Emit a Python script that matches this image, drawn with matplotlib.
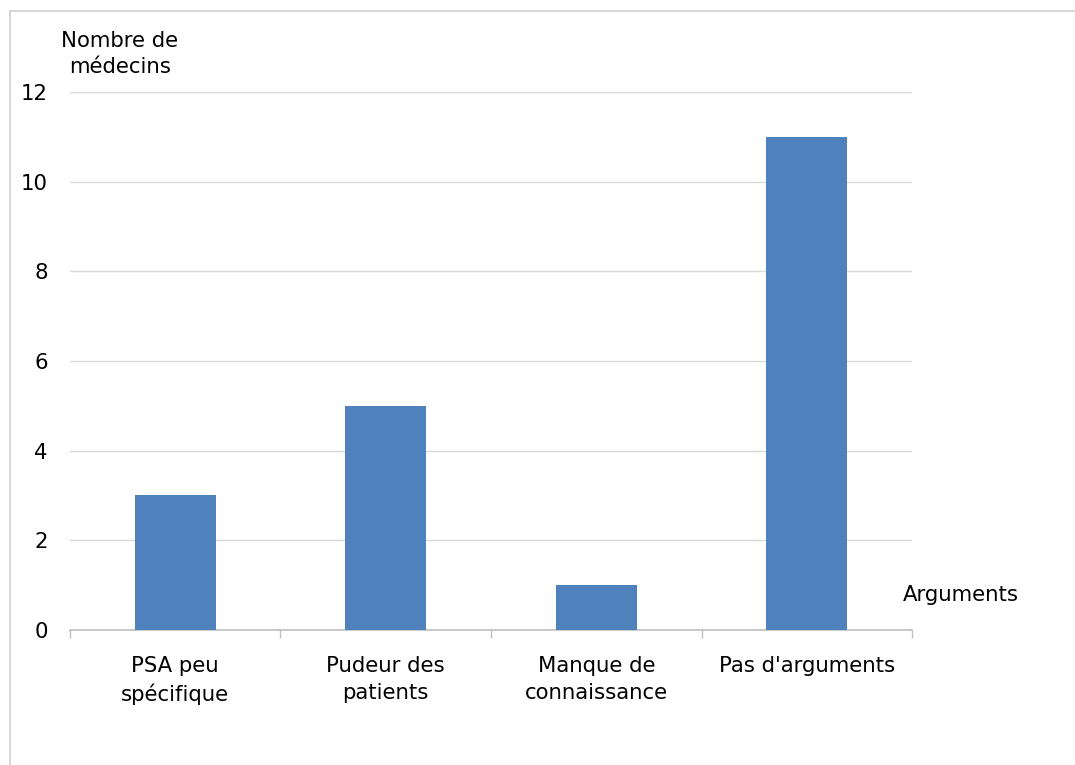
import matplotlib
matplotlib.use("Agg")
from matplotlib import pyplot as plt
from matplotlib.lines import Line2D

plt.rcParams['font.family'] = ['DejaVu Sans']

# Données
categories = ["PSA peu\nspécifique", "Pudeur des\npatients", "Manque de\nconnaissance", "Pas d'arguments"]
nb_medecins = [3, 5, 1, 11]
y_ticks = [0, 2, 4, 6, 8, 10, 12]

bar_color = "#4f81bd"
grid_color = "#d9d9d9"
axis_color = "#bfbfbf"
fs = 15.3

fig = plt.figure(figsize=(10.75, 7.65), dpi=100)
ax = fig.add_axes([0.0651, 0.1765, 0.7833, 0.7032])

x = range(len(categories))
ax.bar(x, nb_medecins, width=0.385, color=bar_color, zorder=3)

ax.set_xlim(-0.5, len(categories) - 0.5)
ax.set_ylim(0, 12)
ax.set_yticks(y_ticks)
ax.set_yticklabels([str(v) for v in y_ticks], fontsize=fs)
ax.tick_params(axis='y', length=0, pad=16)

# Graduations aux limites des catégories
ax.set_xticks([i - 0.5 for i in range(len(categories) + 1)])
ax.set_xticklabels([])
ax.set_xticks(list(x), minor=True)
ax.set_xticklabels(categories, minor=True, fontsize=fs, linespacing=1.4)
ax.tick_params(axis='x', which='major', length=6, color=axis_color, width=1)
ax.tick_params(axis='x', which='minor', length=0, pad=19)

ax.grid(axis='y', color=grid_color, linewidth=1, zorder=0)
for side in ['top', 'right', 'left']:
    ax.spines[side].set_visible(False)
ax.spines['bottom'].set_color(axis_color)
ax.spines['bottom'].set_linewidth(1.2)

# Titres des axes
fig.text(120 / 1075, 1 - 54 / 765, "Nombre de\nmédecins", ha='center', va='center',
         fontsize=fs, linespacing=1.35)
fig.text(961 / 1075, 1 - 595 / 765, "Arguments", ha='center', va='center', fontsize=fs)

# Cadre du graphique
fig.add_artist(Line2D([10 / 1075, 1], [1 - 11 / 765, 1 - 11 / 765], color="#d0d0d0",
                      linewidth=1.2, transform=fig.transFigure))
fig.add_artist(Line2D([10 / 1075, 10 / 1075], [0, 1 - 11 / 765], color="#d0d0d0",
                      linewidth=1.2, transform=fig.transFigure))

fig.savefig("out.png", dpi=100)
